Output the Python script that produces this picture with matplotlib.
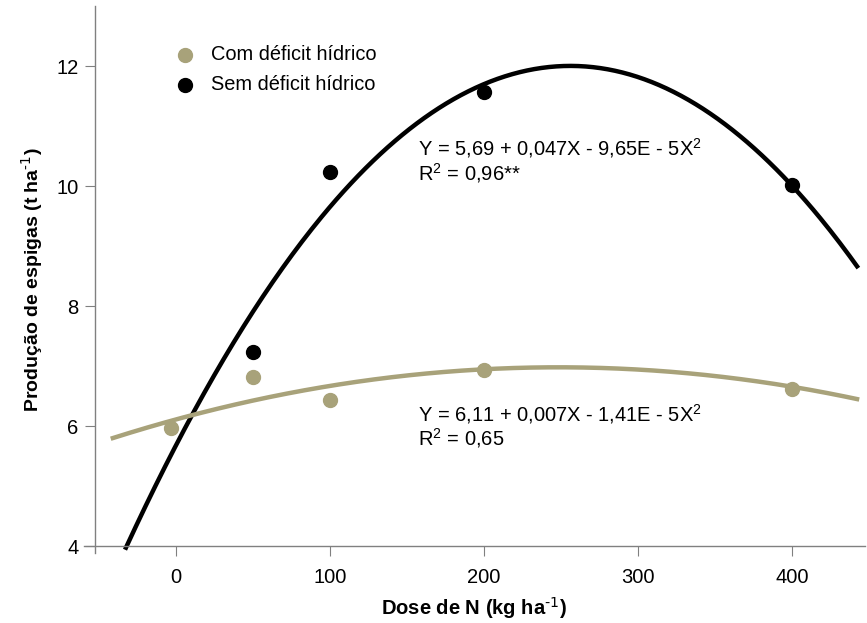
import numpy as np
import matplotlib
matplotlib.use("Agg")
import matplotlib.pyplot as plt

plt.rcParams["font.family"] = ["Liberation Sans", "DejaVu Sans"]
plt.rcParams["mathtext.default"] = "regular"

# observed points
dose = [0, 50, 100, 200, 400]
com_deficit = [5.96, 6.82, 6.44, 6.93, 6.62]
sem_dose = [50, 100, 200, 400]
sem_deficit = [7.24, 10.23, 11.57, 10.02]

# fitted quadratic trend lines (c0, c1, c2) as drawn
com_coef = [6.11, 0.007, -1.41e-5]
sem_coef = [5.68, 0.0494, -9.65e-5]
com_range = (-41, 442)
sem_range = (-32.5, 442)

tan = "#a8a27a"
gray = "#808080"

fig = plt.figure(figsize=(8.67, 6.23), dpi=100)
ax = fig.add_axes([0.0964, 0.112, 0.901, 0.8783])

xs = np.linspace(*sem_range, 300)
ax.plot(xs, sem_coef[0] + sem_coef[1] * xs + sem_coef[2] * xs**2,
        color="black", lw=3.2, zorder=2)
xc = np.linspace(*com_range, 300)
ax.plot(xc, com_coef[0] + com_coef[1] * xc + com_coef[2] * xc**2,
        color=tan, lw=3.2, zorder=3)

ax.scatter(sem_dose, sem_deficit, s=100, color="black", zorder=4,
           label="Sem déficit hídrico")
ax.scatter(np.array(dose) - 3 * (np.array(dose) == 0), com_deficit, s=100,
           color=tan, zorder=5, label="Com déficit hídrico")

ax.set_xlim(-60, 447)
ax.set_ylim(3.88, 13)
ax.spines["left"].set_position(("data", -52.5))
ax.spines["bottom"].set_position(("data", 4))
for s in ["top", "right"]:
    ax.spines[s].set_visible(False)
for s in ["left", "bottom"]:
    ax.spines[s].set_color(gray)
    ax.spines[s].set_linewidth(1.0)

ax.set_xticks([0, 100, 200, 300, 400])
ax.set_yticks([4, 6, 8, 10, 12])
ax.tick_params(direction="out", length=7, color=gray, labelsize=14.5)
ax.tick_params(axis="y", pad=5)
ax.tick_params(axis="x", pad=9)

ax.set_xlabel("Dose de N (kg ha$^{\\text{-1}}$)", fontsize=14.5, fontweight="bold", labelpad=6)
ax.set_ylabel("Produção de espigas (t ha$^{\\text{-1}}$)", fontsize=14, fontweight="bold", labelpad=8)

handles, labels = ax.get_legend_handles_labels()
ax.legend(handles[::-1], labels[::-1], loc="upper left",
          bbox_to_anchor=(0.081, 0.962), frameon=False, fontsize=14.4,
          handletextpad=0.3, labelspacing=0.55, markerscale=1.0)

ax.text(157, 10.42, "Y = 5,69 + 0,047X - 9,65E - 5X$^2$\nR$^2$ = 0,96**",
        fontsize=14.5, va="center", ha="left", linespacing=1.05)
ax.text(157, 6.0, "Y = 6,11 + 0,007X - 1,41E - 5X$^2$\nR$^2$ = 0,65",
        fontsize=14.5, va="center", ha="left", linespacing=1.05)

fig.savefig("out.png", dpi=100)
